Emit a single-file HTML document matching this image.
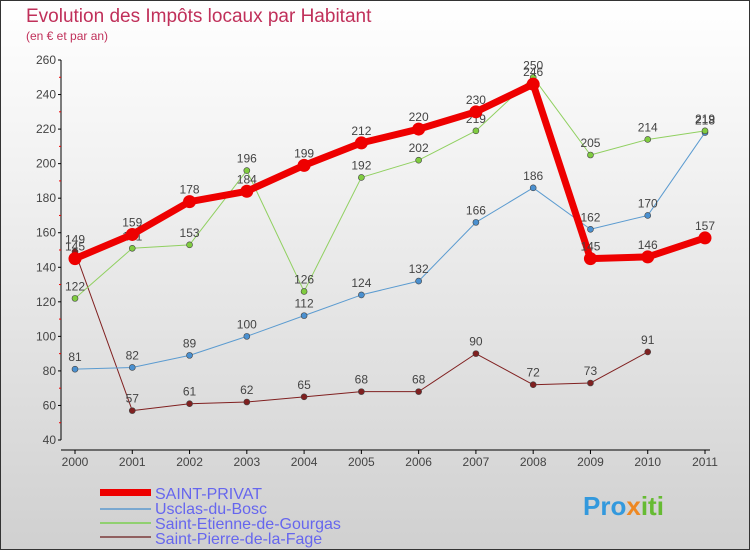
<!DOCTYPE html>
<html><head><meta charset="utf-8"><style>
body{margin:0;width:750px;height:550px;overflow:hidden;font-family:"Liberation Sans",sans-serif}
#c{position:absolute;left:0;top:0;width:748px;height:548px;border:1px solid #333;background:linear-gradient(#ffffff,#f2f2f2 30%,#d0d0d0)}
</style></head><body>
<div id="c">
<svg width="750" height="550" style="position:absolute;left:-1px;top:-1px" id="svg">
<text x="26" y="22" font-size="19" fill="#c0305a">Evolution des Impôts locaux par Habitant</text>
<text x="26" y="40" font-size="12" fill="#c0305a">(en € et par an)</text>
<g id="axes"></g><g id="series"></g>
<g>
<rect x="100" y="489" width="51" height="7" fill="#e00"/>
<rect x="100" y="508" width="51" height="2" fill="#7aa8d0"/>
<rect x="100" y="522" width="51" height="2" fill="#90d070"/>
<rect x="100" y="536" width="51" height="2" fill="#906060"/>
<text x="155" y="499" font-size="16" fill="#6666ee">SAINT-PRIVAT</text>
<text x="155" y="514" font-size="16" fill="#6666ee">Usclas-du-Bosc</text>
<text x="155" y="529" font-size="16" fill="#6666ee">Saint-Etienne-de-Gourgas</text>
<text x="155" y="544" font-size="16" fill="#6666ee">Saint-Pierre-de-la-Fage</text>
</g>
<text x="583" y="515" font-size="26" font-weight="bold" fill="#3399dd">Pro<tspan fill="#ee8822">x</tspan><tspan fill="#66bb33">iti</tspan></text>
</svg></div>
<script>
const years=[2000,2001,2002,2003,2004,2005,2006,2007,2008,2009,2010,2011];
const yTicks=[40,60,80,100,120,140,160,180,200,220,240,260];
const stPrivat=[145,159,178,184,199,212,220,230,246,145,146,157];
const usclas=[81,82,89,100,112,124,132,166,186,162,170,218];
const stEtienne=[122,151,153,196,126,192,202,219,250,205,214,219];
const stPierre=[149,57,61,62,65,68,68,90,72,73,91,null];
const NS="http://www.w3.org/2000/svg";
const X=i=>75+i*(705-75)/11, Y=v=>440-(v-40)*(380/220);
function el(t,a,p){const e=document.createElementNS(NS,t);for(const k in a)e.setAttribute(k,a[k]);p.appendChild(e);return e;}
const ax=document.getElementById('axes'), se=document.getElementById('series');
el('line',{x1:61,y1:60,x2:61,y2:440,stroke:'#000'},ax);
el('line',{x1:61,y1:450,x2:710,y2:450,stroke:'#000'},ax);
yTicks.forEach(v=>{el('line',{x1:58,y1:Y(v),x2:61,y2:Y(v),stroke:'#000'},ax);
 if(v<260)el('line',{x1:59,y1:Y(v+10),x2:61,y2:Y(v+10),stroke:'#e00'},ax);
 const t=el('text',{x:56,y:Y(v)+4,'font-size':12,fill:'#444','text-anchor':'end'},ax);t.textContent=v;
 
 });
years.forEach((y,i)=>{el('line',{x1:X(i),y1:450,x2:X(i),y2:454,stroke:'#000'},ax);
 const t=el('text',{x:X(i),y:466,'font-size':12,fill:'#444','text-anchor':'middle'},ax);t.textContent=y;
 
 });
function draw(data,color,dot,w,r,name){
 const g=el('g',{},se);
 
 
 const pts=data.map((v,i)=>v==null?null:[X(i),Y(v)]).filter(p=>p);
 el('polyline',{points:pts.map(p=>p.join(',')).join(' '),fill:'none',stroke:color,'stroke-width':w,'stroke-linejoin':'round'},g);
 data.forEach((v,i)=>{if(v==null)return;
  const c=el('circle',{cx:X(i),cy:Y(v),r:r,fill:dot,stroke:'#444','stroke-width':r>4?0:0.6},g);
  
  
  const t=el('text',{x:X(i),y:Y(v)-8,'font-size':12,fill:'#444','text-anchor':'middle'},g);t.textContent=v;
  
  });
}
draw(stPierre,'#802020','#802020',1,3,'series-saint-pierre');
draw(usclas,'#5b9bd0','#4a90d0',1,3,'series-usclas');
draw(stEtienne,'#90d060','#80cc40',1,3,'series-saint-etienne');
draw(stPrivat,'#ee0000','#ee0000',7,6.5,'series-saint-privat');
</script>
</body></html>
